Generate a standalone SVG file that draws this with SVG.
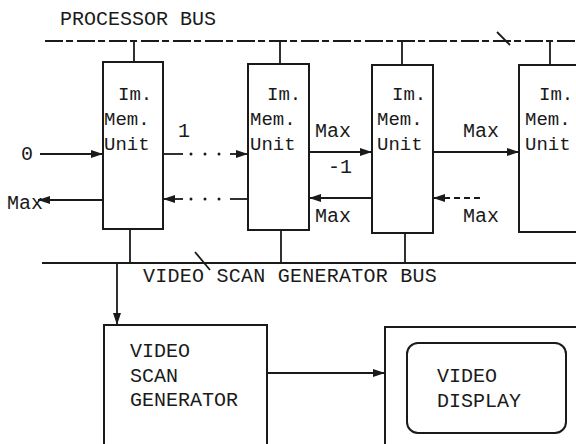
<svg xmlns="http://www.w3.org/2000/svg" width="576" height="444" viewBox="0 0 576 444">
<style>
.box{fill:none;stroke:#1a1a1a;stroke-width:2}
.ln{fill:none;stroke:#1a1a1a;stroke-width:1.8}
.bus{fill:none;stroke:#1a1a1a;stroke-width:2;stroke-dasharray:18 3 7 4}
.dash{stroke-dasharray:6 4}
.t{font-family:"Liberation Mono",monospace;font-size:19px;fill:#1a1a1a}
.tl{font-family:"Liberation Mono",monospace;font-size:20px;fill:#1a1a1a}
.dot{fill:#1a1a1a}
</style>
<defs>
<marker id="ah" viewBox="0 0 12 8" refX="12" refY="4" markerWidth="12" markerHeight="8" markerUnits="userSpaceOnUse" orient="auto">
<path d="M0,0 L12,4 L0,8 Z" fill="#1a1a1a"/>
</marker>
</defs>
<rect width="576" height="444" fill="#fff"/>

<g id="processor-bus">
<line class="bus" x1="45" y1="41" x2="576" y2="41"/>
<line class="ln" x1="497" y1="32" x2="510" y2="45"/>
<text class="tl" x="60" y="25">PROCESSOR BUS</text>
</g>

<g id="video-scan-generator-bus">
<line class="ln" x1="42" y1="263" x2="576" y2="263" stroke-width="2"/>
<line class="ln" x1="195" y1="252" x2="210" y2="270"/>
<text class="tl" x="143" y="282" letter-spacing="0.25">VIDEO SCAN GENERATOR BUS</text>
</g>

<g id="unit1">
<rect class="box" x="103" y="62" width="60" height="167"/>
<text class="t" x="118" y="100">Im.</text>
<text class="t" x="104" y="125">Mem.</text>
<text class="t" x="104" y="150">Unit</text>
</g>
<g id="unit2">
<rect class="box" x="248" y="64" width="61" height="166"/>
<text class="t" x="267" y="100">Im.</text>
<text class="t" x="250" y="125">Mem.</text>
<text class="t" x="250" y="150">Unit</text>
</g>
<g id="unit3">
<rect class="box" x="372" y="65" width="61" height="168"/>
<text class="t" x="392" y="100">Im.</text>
<text class="t" x="377" y="125">Mem.</text>
<text class="t" x="377" y="150">Unit</text>
</g>
<g id="unit4">
<rect class="box" x="519" y="65" width="80" height="167"/>
<text class="t" x="539" y="100">Im.</text>
<text class="t" x="525" y="125">Mem.</text>
<text class="t" x="525" y="150">Unit</text>
</g>

<g id="video-scan-generator">
<rect class="box" x="104" y="325" width="163" height="140"/>
<text class="tl" x="130" y="357">VIDEO</text>
<text class="tl" x="130" y="382">SCAN</text>
<text class="tl" x="130" y="406">GENERATOR</text>
</g>

<g id="video-display">
<path class="box" d="M385,460 V327 H590"/>
<rect class="box" x="407" y="343" width="159" height="90" rx="11"/>
<text class="tl" x="437" y="382">VIDEO</text>
<text class="tl" x="437" y="407">DISPLAY</text>
</g>

<g id="connectors">
<line class="ln" x1="134" y1="41" x2="134" y2="62"/>
<line class="ln" x1="280" y1="41" x2="280" y2="64"/>
<line class="ln" x1="402" y1="41" x2="402" y2="65"/>
<line class="ln" x1="550" y1="41" x2="550" y2="65"/>
<line class="ln" x1="130" y1="229" x2="130" y2="263"/>
<line class="ln" x1="281" y1="230" x2="281" y2="263"/>
<line class="ln" x1="405" y1="233" x2="405" y2="263"/>
<line class="ln" x1="117" y1="263" x2="117" y2="325" marker-end="url(#ah)"/>
<line class="ln" x1="267" y1="373" x2="385" y2="373" marker-end="url(#ah)"/>

<line class="ln" x1="40" y1="154" x2="103" y2="154" marker-end="url(#ah)"/>
<text class="tl" x="21" y="160">0</text>
<line class="ln" x1="103" y1="200" x2="38" y2="200" marker-end="url(#ah)"/>
<text class="tl" x="7" y="209">Max</text>

<line class="ln" x1="163" y1="154" x2="183" y2="154" stroke-width="3"/>
<circle class="dot" cx="191" cy="154" r="1.5"/>
<circle class="dot" cx="205" cy="154" r="1.5"/>
<circle class="dot" cx="219" cy="154" r="1.5"/>
<line class="ln" x1="230" y1="154" x2="248" y2="154" marker-end="url(#ah)"/>
<text class="tl" x="178" y="137">1</text>

<line class="ln" x1="248" y1="199" x2="230" y2="199" stroke-width="3"/>
<circle class="dot" cx="191" cy="199" r="1.5"/>
<circle class="dot" cx="205" cy="199" r="1.5"/>
<circle class="dot" cx="219" cy="199" r="1.5"/>
<line class="ln" x1="183" y1="199" x2="163" y2="199" marker-end="url(#ah)"/>

<line class="ln" x1="309" y1="152" x2="372" y2="152" marker-end="url(#ah)"/>
<text class="tl" x="315" y="137">Max</text>
<text class="tl" x="328" y="173">-1</text>
<line class="ln" x1="372" y1="198" x2="309" y2="198" marker-end="url(#ah)"/>
<text class="tl" x="315" y="222">Max</text>

<line class="ln" x1="433" y1="152" x2="519" y2="152" marker-end="url(#ah)"/>
<text class="tl" x="463" y="137">Max</text>
<line class="ln dash" x1="480" y1="198" x2="433" y2="198" marker-end="url(#ah)"/>
<text class="tl" x="463" y="222">Max</text>
</g>
</svg>
